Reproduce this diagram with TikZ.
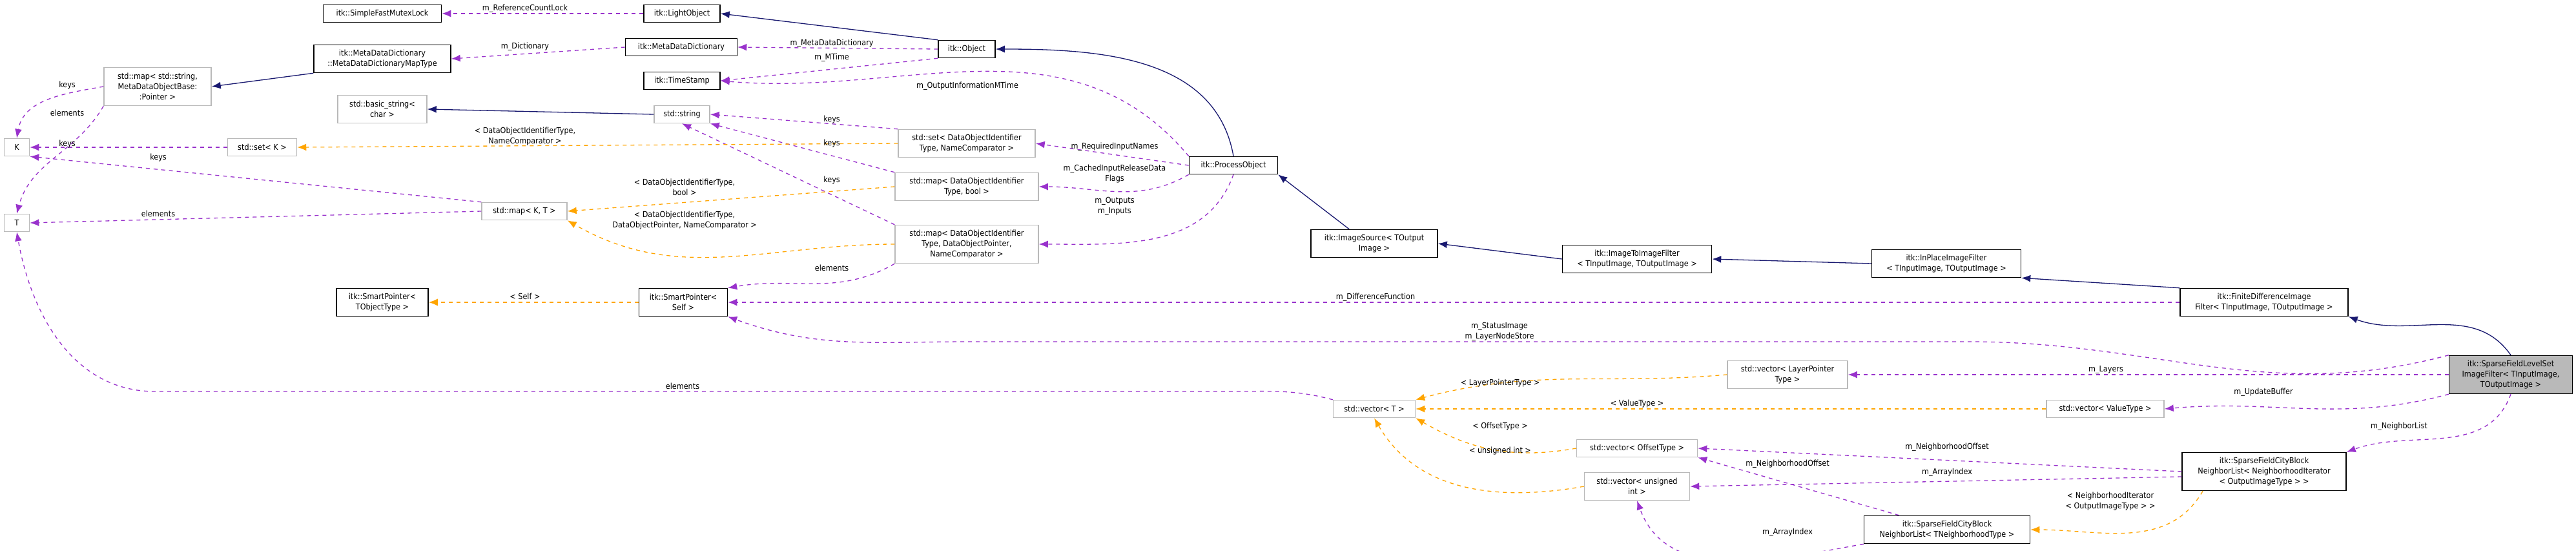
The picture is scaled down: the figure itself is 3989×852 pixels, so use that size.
\documentclass[tikz,border=0pt]{standalone}
\usepackage{fontspec}
\setmainfont{DejaVu Sans Condensed}
\usetikzlibrary{arrows.meta,positioning}
\definecolor{inhblue}{RGB}{25,25,112}
\definecolor{usepurple}{RGB}{153,50,204}
\definecolor{tplorange}{RGB}{255,165,0}
\tikzset{
  cls/.style={draw=black,line width=1.5pt,fill=white,align=center,inner sep=2pt,minimum height=27pt,font=\fontsize{12.5}{16}\selectfont},
  ext/.style={cls,draw=gray!55},
  inh/.style={draw=inhblue,line width=1.3pt,-{Latex[length=14pt,width=11pt]}},
  use/.style={draw=usepurple,line width=1.3pt,dash pattern=on 6pt off 6pt,-{Latex[length=14pt,width=11pt]}},
  tpl/.style={draw=tplorange,line width=1.3pt,dash pattern=on 6pt off 6pt,-{Latex[length=14pt,width=11pt]}},
  lbl/.style={font=\fontsize{12.5}{16}\selectfont,align=center,inner sep=1pt}
}
\begin{document}
\begin{tikzpicture}[x=1pt,y=-1pt]
\useasboundingbox[fill=white] (0,0) rectangle (3989,852);

% classes
\node[cls,minimum width=183] (mutex) at (592,21) {itk::SimpleFastMutexLock};
\node[cls,minimum width=212,minimum height=43] (maptype) at (592,91) {itk::MetaDataDictionary\\::MetaDataDictionaryMapType};
\node[ext,minimum width=166,minimum height=59] (mapstr) at (244,134) {std::map\textless{} std::string,\\MetaDataObjectBase:\\:Pointer \textgreater{}};
\node[ext,minimum width=138,minimum height=43] (bstr) at (592,169) {std::basic\_string\textless{}\\char \textgreater{}};
\node[ext,minimum width=39] (K) at (26,228) {K};
\node[ext,minimum width=107] (setK) at (406,228) {std::set\textless{} K \textgreater{}};
\node[ext,minimum width=132] (mapKT) at (812,327) {std::map\textless{} K, T \textgreater{}};
\node[ext,minimum width=39] (T) at (26,345) {T};
\node[cls,minimum width=118] (light) at (1056,21) {itk::LightObject};
\node[cls,minimum width=173] (mdd) at (1055,73) {itk::MetaDataDictionary};
\node[cls,minimum width=118] (tstamp) at (1056,125) {itk::TimeStamp};
\node[cls,minimum width=88] (object) at (1497,76) {itk::Object};
\node[ext,minimum width=86] (str) at (1056,177) {std::string};
\node[ext,minimum width=212,minimum height=43] (setdo) at (1497,222) {std::set\textless{} DataObjectIdentifier\\Type, NameComparator \textgreater{}};
\node[ext,minimum width=222,minimum height=43] (mapbool) at (1497,289) {std::map\textless{} DataObjectIdentifier\\Type, bool \textgreater{}};
\node[ext,minimum width=222,minimum height=59] (mapdo) at (1497,378) {std::map\textless{} DataObjectIdentifier\\Type, DataObjectPointer,\\NameComparator \textgreater{}};
\node[cls,minimum width=137] (procobj) at (1910,256) {itk::ProcessObject};
\node[cls,minimum width=142,minimum height=43] (sptobj) at (592,468) {itk::SmartPointer\textless{}\\TObjectType \textgreater{}};
\node[cls,minimum width=137,minimum height=43] (spself) at (1058,468) {itk::SmartPointer\textless{}\\Self \textgreater{}};
\node[cls,minimum width=196,minimum height=43] (imgsrc) at (2128,377) {itk::ImageSource\textless{} TOutput\\Image \textgreater{}};
\node[cls,minimum width=231,minimum height=43] (img2img) at (2535,401) {itk::ImageToImageFilter\\\textless{} TInputImage, TOutputImage \textgreater{}};
\node[cls,minimum width=231,minimum height=43] (inplace) at (3014,408) {itk::InPlaceImageFilter\\\textless{} TInputImage, TOutputImage \textgreater{}};
\node[cls,minimum width=260,minimum height=43] (findiff) at (3506,468) {itk::FiniteDifferenceImage\\Filter\textless{} TInputImage, TOutputImage \textgreater{}};
\node[cls,fill=gray!55,minimum width=191,minimum height=59] (sfls) at (3888,580) {itk::SparseFieldLevelSet\\ImageFilter\textless{} TInputImage,\\TOutputImage \textgreater{}};
\node[ext,minimum width=186,minimum height=43] (veclayer) at (2768,580) {std::vector\textless{} LayerPointer\\Type \textgreater{}};
\node[ext,minimum width=127] (vecT) at (2128,633) {std::vector\textless{} T \textgreater{}};
\node[ext,minimum width=182] (vecval) at (3260,633) {std::vector\textless{} ValueType \textgreater{}};
\node[ext,minimum width=187] (vecoff) at (2535,694) {std::vector\textless{} OffsetType \textgreater{}};
\node[ext,minimum width=163,minimum height=43] (vecuint) at (2535,753) {std::vector\textless{} unsigned\\int \textgreater{}};
\node[cls,minimum width=254,minimum height=59] (nbiter) at (3506,730) {itk::SparseFieldCityBlock\\NeighborList\textless{} NeighborhoodIterator\\\textless{} OutputImageType \textgreater{} \textgreater{}};
\node[cls,minimum width=257,minimum height=43] (nbtype) at (3015,820) {itk::SparseFieldCityBlock\\NeighborList\textless{} TNeighborhoodType \textgreater{}};

% inheritance
\draw[inh] (object.north west) -- (light.east);
\draw[inh] (procobj.north) to[out=100,in=0] (object.east);
\draw[inh] (imgsrc.north west) ++(60,0) -- (procobj.south east);
\draw[inh] (img2img.west) -- (imgsrc.east);
\draw[inh] (inplace.west) -- (img2img.east);
\draw[inh] (findiff.north west) -- (inplace.south east);
\draw[inh] (sfls.north) to[out=125,in=-20] (findiff.south east);
\draw[inh] (maptype.south west) -- (mapstr.east);
\draw[inh] (str.west) -- (bstr.east);

% members
\draw[use] (light.west) -- (mutex.east);
\draw[use] (mdd.west) -- (maptype.east);
\draw[use] (mapstr.west) to[out=190,in=80] (K.north);
\draw[use] (mapstr.south west) to[out=-120,in=75] (T.north);
\draw[use] (setK.west) -- (K.east);
\draw[use] (mapKT.north west) -- (K.south east);
\draw[use] (mapKT.west) -- (T.east);
\draw[use] (object.west) -- (mdd.east);
\draw[use] (object.south west) -- (tstamp.east);
\draw[use] (procobj.north west) to[out=130,in=-5] (tstamp.east);
\draw[use] (setdo.north west) -- (str.east);
\draw[use] (mapbool.north west) -- (str.south east);
\draw[use] (mapdo.north west) -- (str.south);
\draw[use] (mapdo.south west) to[out=-150,in=10] (spself.north east);
\draw[use] (procobj.west) -- (setdo.east);
\draw[use] (procobj.south west) to[out=-150,in=0] (mapbool.east);
\draw[use] (procobj.south) to[out=-110,in=0] (mapdo.east);
\draw[use] (findiff.west) -- (spself.east);
\draw[use] (sfls.north west) to[out=195,in=0] (3050,529) -- (1500,529) to[out=180,in=-20] (spself.south east);
\draw[use] (sfls.west) -- (veclayer.east);
\draw[use] (sfls.south west) to[out=195,in=5] (vecval.east);
\draw[use] (sfls.south) to[out=-110,in=20] (nbiter.north east);
\draw[use] (nbiter.west) -- (vecoff.east);
\draw[use] (nbiter.west) ++(0,8) -- (vecuint.east);
\draw[use] (nbtype.north west) ++(55,0) -- (vecoff.south east);
\draw[use] (nbtype.south west) to[out=190,in=-70] (vecuint.south);
\draw[use] (vecT.north west) to[out=165,in=0] (1900,606) -- (240,606) to[out=180,in=-80] (T.south);

% templates
\draw[tpl] (setdo.west) -- (setK.east);
\draw[tpl] (mapbool.west) -- (mapKT.east);
\draw[tpl] (mapdo.west) to[out=180,in=-30] (mapKT.south east);
\draw[tpl] (spself.west) -- (sptobj.east);
\draw[tpl] (veclayer.west) to[out=185,in=15] (vecT.north east);
\draw[tpl] (vecval.west) -- (vecT.east);
\draw[tpl] (vecoff.west) to[out=190,in=-30] (vecT.south east);
\draw[tpl] (vecuint.west) to[out=190,in=-60] (vecT.south);
\draw[tpl] (nbiter.south) ++(-95,0) to[out=-120,in=0] (nbtype.east);

% labels
\node[lbl] (l1) at (813,13) {m\_ReferenceCountLock};
\node[lbl] (l2) at (813,72) {m\_Dictionary};
\node[lbl] (l3) at (104,132) {keys};
\node[lbl] (l4) at (104,175) {elements};
\node[lbl] (l5) at (104,223) {keys};
\node[lbl] (l6) at (245,244) {keys};
\node[lbl] (l7) at (245,331) {elements};
\node[lbl] (l8) at (813,211) {\textless{} DataObjectIdentifierType,\\NameComparator \textgreater{}};
\node[lbl] (l9) at (1060,290) {\textless{} DataObjectIdentifierType,\\bool \textgreater{}};
\node[lbl] (l10) at (1060,341) {\textless{} DataObjectIdentifierType,\\DataObjectPointer, NameComparator \textgreater{}};
\node[lbl] (l11) at (1288,67) {m\_MetaDataDictionary};
\node[lbl] (l12) at (1288,89) {m\_MTime};
\node[lbl] (l13) at (1498,133) {m\_OutputInformationMTime};
\node[lbl] (l14) at (1288,185) {keys};
\node[lbl] (l15) at (1288,222) {keys};
\node[lbl] (l16) at (1288,279) {keys};
\node[lbl] (l17) at (1288,415) {elements};
\node[lbl] (l18) at (1726,227) {m\_RequiredInputNames};
\node[lbl] (l19) at (1726,269) {m\_CachedInputReleaseData\\Flags};
\node[lbl] (l20) at (1726,319) {m\_Outputs\\m\_Inputs};
\node[lbl] (l21) at (813,459) {\textless{} Self \textgreater{}};
\node[lbl] (l22) at (2130,460) {m\_DifferenceFunction};
\node[lbl] (l23) at (2322,513) {m\_StatusImage\\m\_LayerNodeStore};
\node[lbl] (l24) at (1057,598) {elements};
\node[lbl] (l25) at (2323,593) {\textless{} LayerPointerType \textgreater{}};
\node[lbl] (l26) at (2535,625) {\textless{} ValueType \textgreater{}};
\node[lbl] (l27) at (2323,660) {\textless{} OffsetType \textgreater{}};
\node[lbl] (l28) at (2323,698) {\textless{} unsigned int \textgreater{}};
\node[lbl] (l29) at (2768,718) {m\_NeighborhoodOffset};
\node[lbl] (l30) at (2768,824) {m\_ArrayIndex};
\node[lbl] (l31) at (3261,572) {m\_Layers};
\node[lbl] (l32) at (3505,607) {m\_UpdateBuffer};
\node[lbl] (l33) at (3715,660) {m\_NeighborList};
\node[lbl] (l34) at (3015,692) {m\_NeighborhoodOffset};
\node[lbl] (l35) at (3015,731) {m\_ArrayIndex};
\node[lbl] (l36) at (3268,776) {\textless{} NeighborhoodIterator\\\textless{} OutputImageType \textgreater{} \textgreater{}};
\end{tikzpicture}
\end{document}
